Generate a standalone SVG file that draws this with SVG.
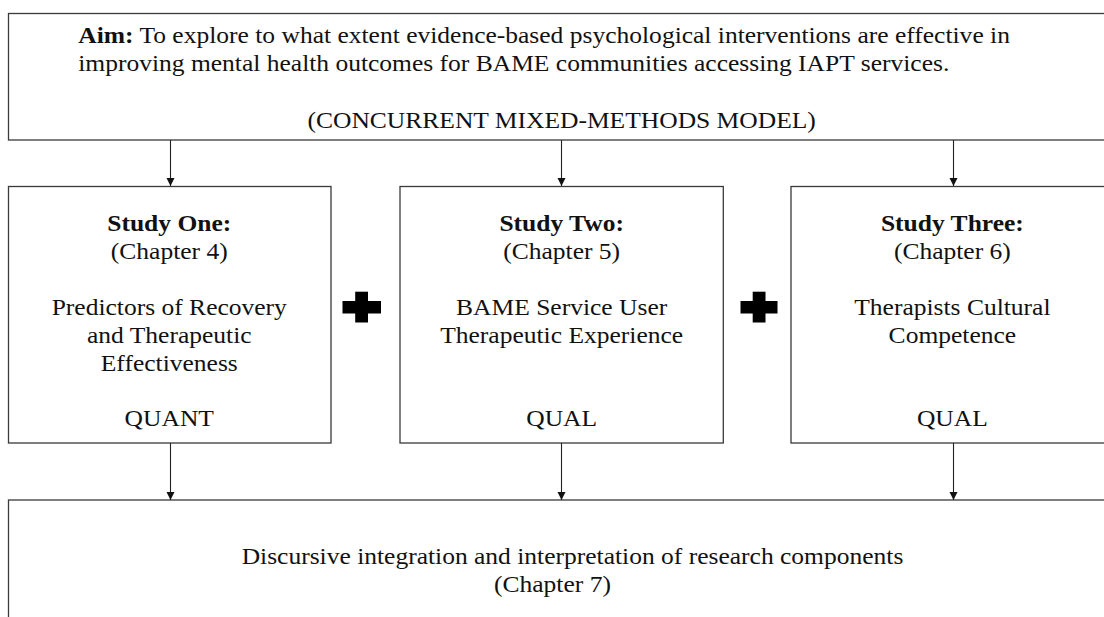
<svg xmlns="http://www.w3.org/2000/svg" width="1104" height="617" viewBox="0 0 1104 617">
<defs>
<style>
.box{fill:#fff;stroke:#3a3a3a;stroke-width:1.3}
.conn{stroke:#222;stroke-width:1.1;fill:none}
.t{font-family:"Liberation Serif","Times New Roman",serif;font-size:23px;fill:#111}
.b{font-weight:bold}
.m{text-anchor:middle}
.plus{fill:#000}
</style>
<marker id="ah" markerWidth="10" markerHeight="10" refX="9" refY="5" orient="auto" markerUnits="userSpaceOnUse" viewBox="0 0 10 10">
<path d="M1,1 L9,5 L1,9 Z" fill="#111"/>
</marker>
</defs>
<rect width="1104" height="617" fill="#fff"/>
<g id="aim">
<rect class="box" x="8.5" y="13.5" width="1110" height="126.5"/>
<g transform="scale(1.11,1)">
<text class="t" x="70.5" y="43"><tspan class="b">Aim:</tspan> To explore to what extent evidence-based psychological interventions are effective in</text>
<text class="t" x="70.5" y="71">improving mental health outcomes for BAME communities accessing IAPT services.</text>
<text class="t m" x="506" y="128">(CONCURRENT MIXED-METHODS MODEL)</text>
</g>
</g>
<g id="study1">
<rect class="box" x="8.5" y="186.5" width="322.5" height="256.5"/>
<g transform="scale(1.11,1)">
<text class="t b m" x="152.5" y="231">Study One:</text>
<text class="t m" x="152.5" y="259">(Chapter 4)</text>
<text class="t m" x="152.5" y="315">Predictors of Recovery</text>
<text class="t m" x="152.5" y="343">and Therapeutic</text>
<text class="t m" x="152.5" y="371">Effectiveness</text>
<text class="t m" x="152.5" y="426">QUANT</text>
</g>
</g>
<g id="study2">
<rect class="box" x="400" y="186.5" width="323.3" height="256.5"/>
<g transform="scale(1.11,1)">
<text class="t b m" x="506" y="231">Study Two:</text>
<text class="t m" x="506" y="259">(Chapter 5)</text>
<text class="t m" x="506" y="315">BAME Service User</text>
<text class="t m" x="506" y="343">Therapeutic Experience</text>
<text class="t m" x="506" y="426">QUAL</text>
</g>
</g>
<g id="study3">
<rect class="box" x="791" y="186.5" width="324" height="256.5"/>
<g transform="scale(1.11,1)">
<text class="t b m" x="858" y="231">Study Three:</text>
<text class="t m" x="858" y="259">(Chapter 6)</text>
<text class="t m" x="858" y="315">Therapists Cultural</text>
<text class="t m" x="858" y="343">Competence</text>
<text class="t m" x="858" y="426">QUAL</text>
</g>
</g>
<g id="integration">
<rect class="box" x="8.5" y="500" width="1110" height="130"/>
<g transform="scale(1.11,1)">
<text class="t" x="217.7" y="564">Discursive integration and interpretation of research components</text>
<text class="t m" x="497.7" y="592">(Chapter 7)</text>
</g>
</g>
<g id="plus1">
<rect class="plus" x="342.5" y="301" width="38.5" height="12.5"/>
<rect class="plus" x="355.2" y="291.7" width="12.8" height="30.8"/>
</g>
<g id="plus2">
<rect class="plus" x="740.5" y="301" width="37" height="12.5"/>
<rect class="plus" x="752.7" y="291.7" width="12.8" height="30.8"/>
</g>
<g id="connectors">
<line class="conn" x1="170.5" y1="140" x2="170.5" y2="186" marker-end="url(#ah)"/>
<line class="conn" x1="561.5" y1="140" x2="561.5" y2="186" marker-end="url(#ah)"/>
<line class="conn" x1="953.5" y1="140" x2="953.5" y2="186" marker-end="url(#ah)"/>
<line class="conn" x1="170.5" y1="443" x2="170.5" y2="500" marker-end="url(#ah)"/>
<line class="conn" x1="561.5" y1="443" x2="561.5" y2="500" marker-end="url(#ah)"/>
<line class="conn" x1="953.5" y1="443" x2="953.5" y2="500" marker-end="url(#ah)"/>
</g>
</svg>
